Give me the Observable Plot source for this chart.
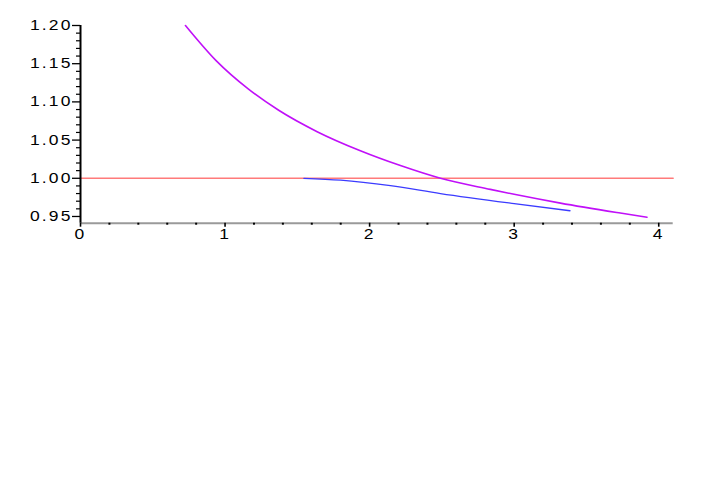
<!DOCTYPE html>
<html>
<head>
<meta charset="utf-8">
<script src="https://cdn.jsdelivr.net/npm/d3@7"></script>
<script src="https://cdn.jsdelivr.net/npm/@observablehq/plot@0.6"></script>
<style>
  html, body { margin: 0; padding: 0; background: #fff; }
</style>
</head>
<body>
<div id="chart"></div>
<script>
// Purple curve
const purpleX = [0.726, 0.938, 1.160, 1.371, 1.637, 1.936, 2.213, 2.490, 2.835, 3.000, 3.320, 3.734, 3.919];
const purpleY = [1.200, 1.154, 1.117, 1.089, 1.061, 1.036, 1.0166, 1.000, 0.9855, 0.979, 0.9675, 0.9545, 0.949];
// Blue curve
const blueX = [1.545, 1.800, 2.144, 2.490, 3.000, 3.386];
const blueY = [1.000, 0.9975, 0.9903, 0.9800, 0.9668, 0.9575];
// Red reference line
const redX = [0, 4.1];
const redY = [1.0, 1.0];
// Axis ticks
const xTicks = [0, 1, 2, 3, 4];
const xTickLabels = ["0", "1", "2", "3", "4"];
const xMinor = [0.2, 0.4, 0.6, 0.8, 1.2, 1.4, 1.6, 1.8, 2.2, 2.4, 2.6, 2.8, 3.2, 3.4, 3.6, 3.8];
const yTicks = [0.95, 1.00, 1.05, 1.10, 1.15, 1.20];
const yTickLabels = ["0.95", "1.00", "1.05", "1.10", "1.15", "1.20"];
const yMinor = [0.96, 0.97, 0.98, 0.99, 1.01, 1.02, 1.03, 1.04, 1.06, 1.07, 1.08, 1.09, 1.11, 1.12, 1.13, 1.14, 1.16, 1.17, 1.18, 1.19];

const xDomain = [0, 4.1];
const yDomain = [0.9412, 1.2];

const toPts = (xs, ys) => xs.map((x, i) => ({x, y: ys[i]}));
const font = "'Liberation Sans', Arial, sans-serif";

const chart = Plot.plot({
  width: 708,
  height: 491,
  marginLeft: 80,
  marginRight: 35.3,
  marginTop: 25,
  marginBottom: 268.3,
  style: {fontFamily: font, fontSize: "14px", color: "#000", background: "#fff", overflow: "visible"},
  x: {domain: xDomain, label: null},
  y: {domain: yDomain, label: null},
  marks: [
    Plot.line(toPts(redX, redY), {x: "x", y: "y", stroke: "#ff7a7a", strokeWidth: 1.4}),
    Plot.line(toPts(blueX, blueY), {x: "x", y: "y", stroke: "#3b3bff", strokeWidth: 1.3, curve: "monotone-x"}),
    Plot.line(toPts(purpleX, purpleY), {x: "x", y: "y", stroke: "#c010f8", strokeWidth: 1.6, curve: "monotone-x"}),
    // x axis line (grey) and y axis line (black)
    Plot.ruleY([yDomain[0]], {x1: xDomain[0], x2: xDomain[1], stroke: "#9a9a9a", strokeWidth: 2}),
    Plot.ruleX([0], {y1: yDomain[0], y2: 1.2, stroke: "#000", strokeWidth: 2}),
    // y axis
    Plot.axisY({ticks: yTicks, label: null, tickSize: 8, tickPadding: 0, tickFormat: (d, i) => yTickLabels[i], strokeWidth: 1.3}),
    Plot.axisY({ticks: yMinor, label: null, tickSize: 4, tickFormat: () => "", strokeWidth: 1.2}),
    // x axis
    Plot.axisX({ticks: xTicks, label: null, tickSize: 4, tickPadding: 1.5, tickFormat: (d, i) => xTickLabels[i], strokeWidth: 1.6}),
    Plot.axisX({ticks: xMinor, label: null, tickSize: 2, tickFormat: () => "", strokeWidth: 2})
  ]
});

// Widen the tick-label glyphs to resemble the original's stretched font
d3.select(chart).selectAll("g[aria-label$='tick label'] text").each(function() {
  const t = d3.select(this);
  const tr = t.attr("transform");
  if (tr) {
    t.attr("transform", tr + " scale(1.25,1)");
  } else {
    const x = +(t.attr("x") || 0), y = +(t.attr("y") || 0);
    t.attr("x", null).attr("y", null).attr("transform", `translate(${x},${y}) scale(1.25,1)`);
  }
  t.style("font-size", "14px").style("font-family", font).style("letter-spacing", "1.7px");
});

document.getElementById("chart").appendChild(chart);
</script>
</body>
</html>
